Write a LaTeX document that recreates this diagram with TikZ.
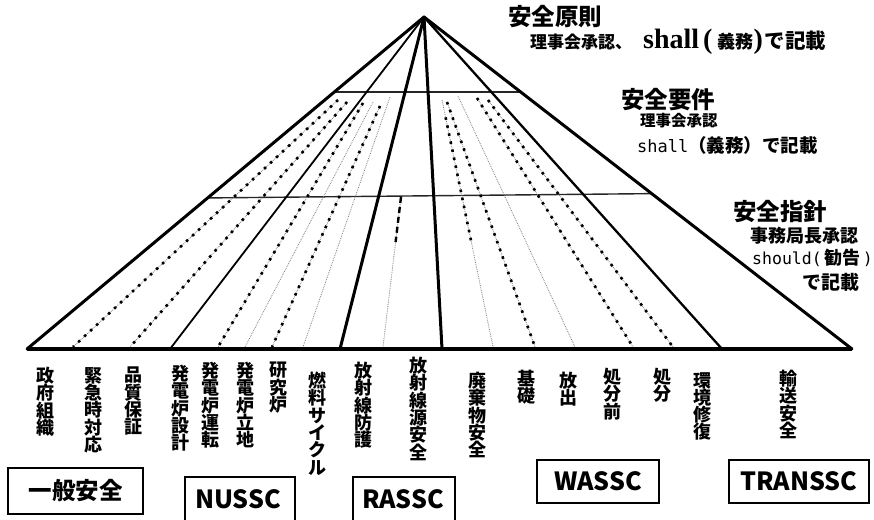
\documentclass[tikz,border=0pt]{standalone}
\usepackage{fontspec}
\newfontfamily\jp{Noto Sans CJK JP}
\newfontfamily\ser{Liberation Serif}
\newfontfamily\mono{DejaVu Sans Mono}
\usetikzlibrary{calc}
\newcommand\fsz[1]{\fontsize{#1}{#1}\selectfont}
\tikzset{
  edge/.style={line width=3pt, line cap=round},
  thinedge/.style={line width=1.8pt},
  band/.style={line width=1.4pt, black!85},
  gdot/.style={black!50, line width=0.8pt, dash pattern=on 0.8pt off 1pt},
  bsq/.style={line width=2.6pt, dash pattern=on 2.6pt off 5.6pt},
  bdash/.style={line width=2.4pt, dash pattern=on 6pt off 4pt},
  vlab/.style={font=\jp\bfseries\fontsize{18}{17.3}\selectfont, align=center, inner sep=0pt, anchor=north},
  scbox/.style={draw, line width=1.5pt, font=\jp\bfseries\fsz{25}, inner sep=0pt},
  head/.style={font=\jp\bfseries\fsz{23.5}, inner sep=0pt, anchor=west},
  sub/.style={font=\jp\bfseries, inner sep=0pt, anchor=west},
}
\begin{document}
\begin{tikzpicture}[x=1pt, y=-1pt]
\useasboundingbox (0,0) rectangle (874,519);
% main frame
\coordinate (apex) at (424,17);
\coordinate (bl) at (27,349);
\coordinate (br) at (852,349);
\coordinate (s1) at (170,349);
\coordinate (s2) at (340,349);
\coordinate (s3) at (442,349);
\coordinate (s4) at (722,349);
% band lines
\draw[band] ($(apex)!0.2259!(bl)$) -- ($(apex)!0.2259!(br)$);
\draw[band] ($(apex)!0.545!(bl)$) -- ($(apex)!0.532!(br)$);
% dotted lines
\coordinate (a1) at (338,100); \coordinate (a2) at (73,347);
\coordinate (b1) at (347,102); \coordinate (b2) at (130,347);
\coordinate (c1) at (363,103); \coordinate (c2) at (218,347);
\coordinate (d1) at (373,102); \coordinate (d2) at (245,347);
\coordinate (e1) at (380,106); \coordinate (e2) at (272,347);
\coordinate (f1) at (390,97);  \coordinate (f2) at (303,347);
\coordinate (r1) at (401,197); \coordinate (r2) at (383,347);
\coordinate (g1) at (442,100); \coordinate (g2) at (493,347);
\coordinate (h1) at (447,102); \coordinate (h2) at (535,347);
\coordinate (i1) at (458,96);  \coordinate (i2) at (575,347);
\coordinate (j1) at (477,98);  \coordinate (j2) at (633,347);
\coordinate (k1) at (488,100); \coordinate (k2) at (673,347);
\foreach \p in {a,b,c,d,e,f,r,g,h,i,j,k}{\draw[gdot] (\p1) -- (\p2);}
\foreach \p in {a,b,c,e,h,j,k}{\draw[bsq] (\p1) -- (\p2);}
\draw[bdash] (r1) -- ($(r1)!0.3!(r2)$);
\draw[bsq] ($(g1)!0.07!(g2)$) -- ($(g1)!0.57!(g2)$);
% solid lines
\draw[edge] (apex) -- (bl);
\draw[edge] (apex) -- (br);
\draw[thinedge] (apex) -- (s1);
\draw[edge] (apex) -- (s2);
\draw[edge] (apex) -- (s3);
\draw[line width=2.3pt] (apex) -- (s4);
\draw[line width=3.6pt] (bl) -- (br);
% right texts
\node[head] (p1) at (508,17) {安全原則};
\node[sub] (p2) at (530,42) {\fsz{17}理事会承認、\hspace{11pt}{\ser\bfseries\fsz{28}shall}\hspace{4pt}{\ser\bfseries\fsz{28}(}\hspace{5pt}{\fsz{18}義務}{\ser\bfseries\fsz{28})}\hspace{2pt}\fsz{20.5}で記載};
\node[head] (q1) at (621,100) {安全要件};
\node[sub] (q2) at (640,121) {\fsz{15.5}理事会承認};
\node[sub] (q3) at (637,145) {{\mono\mdseries\fsz{17}shall}\fsz{18.5}（義務）で記載};
\node[head] (g1t) at (733,212) {安全指針};
\node[sub] (g2t) at (750,236) {\fsz{18}事務局長承認};
\node[sub] (g3t) at (752,258) {{\mono\mdseries\fsz{16.5}should(}\hspace{3pt}\fsz{18}勧告\hspace{2pt}{\mono\mdseries\fsz{16.5})}};
\node[sub] (g4t) at (802,282) {\fsz{19}で記載};
% vertical labels
\node[vlab] (l1) at (45,367) {政\\府\\組\\織};
\node[vlab] (l2) at (93,367) {緊\\急\\時\\対\\応};
\node[vlab] (l3) at (133,367) {品\\質\\保\\証};
\node[vlab] (l4) at (180,365) {発\\電\\炉\\設\\計};
\node[vlab] (l5) at (210,362) {発\\電\\炉\\運\\転};
\node[vlab] (l6) at (245,362) {発\\電\\炉\\立\\地};
\node[vlab] (l7) at (278,362) {研\\究\\炉};
\node[vlab] (l8) at (317,372) {燃\\料\\サ\\イ\\ク\\ル};
\node[vlab] (l9) at (363,362) {放\\射\\線\\防\\護};
\node[vlab] (l10) at (418,357) {放\\射\\線\\源\\安\\全};
\node[vlab] (l11) at (477,372) {廃\\棄\\物\\安\\全};
\node[vlab] (l12) at (526,370) {基\\礎};
\node[vlab] (l13) at (568,372) {放\\出};
\node[vlab] (l14) at (612,368) {処\\分\\前};
\node[vlab] (l15) at (662,368) {処\\分};
\node[vlab] (l16) at (702,372) {環\\境\\修\\復};
\node[vlab] (l17) at (788,370) {輸\\送\\安\\全};
% committee boxes
\begin{scope}
\clip (0,0) rectangle (874,519);
\node[scbox, minimum width=135pt, minimum height=46pt, font=\jp\bfseries\fsz{23.5}] (gen) at (75.5,491) {一般安全};
\node[scbox, minimum width=110pt, minimum height=70pt, anchor=north] (nus) at (240,476) {};
\node[scbox, minimum width=102pt, minimum height=70pt, anchor=north] (ras) at (404,476) {};
\node[scbox, minimum width=122pt, minimum height=43pt] (was) at (598,481.5) {WASSC};
\node[scbox, minimum width=140pt, minimum height=43pt] (tra) at (799,481.5) {TRANSSC};
\end{scope}
\node[font=\jp\bfseries\fsz{25}, inner sep=0pt] (nust) at (238,499) {NUSSC};
\node[font=\jp\bfseries\fsz{25}, inner sep=0pt] (rast) at (403,499) {RASSC};
\end{tikzpicture}
\end{document}
